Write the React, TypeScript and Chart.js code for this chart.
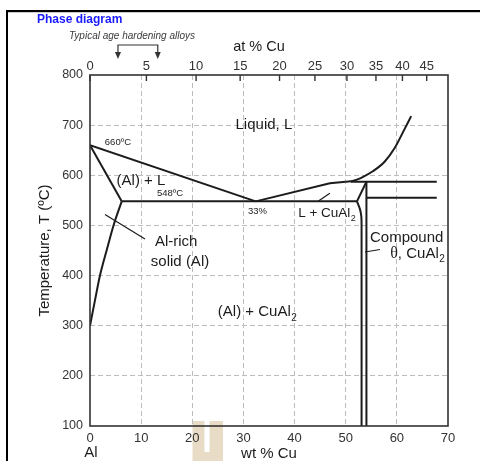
import React, { useEffect, useRef } from 'react';
import { Chart, registerables } from 'chart.js';

Chart.register(...registerables);

// ---- data (wt % Cu, temperature °C) ----
const wtTickStep = 10;
const tempTickStep = 100;
const atTicks = [0, 5, 10, 15, 20, 25, 30, 35, 40, 45];
const ageHardeningWt = [5.47, 13.25];

const liquidusAl = [[0, 660], [32.4, 548]];
const solidusAl = [[0, 660], [6.2, 548]];
const solvusAl = [[0, 300], [1, 352], [1.95, 400], [3.3, 452], [4.6, 500], [6.2, 548]];
const eutecticLine = [[6.2, 548], [52.2, 548]];
const liquidusLow = [[32.4, 548], [46.9, 584], [50, 587]];
const liquidusHigh = [[50, 587], [51.5, 589], [53.4, 597], [55.3, 608], [57.6, 627], [59.6, 655], [61.2, 686], [62.8, 718]];
const thetaLeft = [[52.2, 548], [52.8, 532], [53.05, 518], [53.1, 500], [53.1, 100]];
const thetaTop = [[52.2, 548], [54.05, 587]];
const thetaRight = [[54.05, 587], [54.05, 100]];
const upperHorizontal = [[51, 587], [67.8, 587]];
const lowerHorizontal = [[54.05, 555], [67.8, 555]];
const leaderAlRich = [[2.93, 522], [10.75, 473]];
const leaderLCuAl2 = [[44.6, 548], [46.9, 564]];
const leaderCompound = [[53.77, 447], [56.7, 452]];

const CU = 63.546;
const AL = 26.982;
const atToWt = (a: number) => (a * CU) / (a * CU + (100 - a) * AL) * 100;

type Lbl = { t: string; x: number; y: number; size: number; align?: CanvasTextAlign; sub?: string; theta?: boolean };
const phaseLabels: Lbl[] = [
  { t: 'Liquid, L', x: 34, y: 700, size: 15, align: 'center' },
  { t: '(Al) + L', x: 5.2, y: 588, size: 15 },
  { t: 'Al-rich', x: 12.7, y: 468, size: 15 },
  { t: 'solid (Al)', x: 11.9, y: 427, size: 15 },
  { t: '660ºC', x: 2.9, y: 665, size: 9.5 },
  { t: '548ºC', x: 13.1, y: 563, size: 9.5 },
  { t: '33%', x: 30.9, y: 528, size: 9.5 },
  { t: 'L + CuAl', x: 40.7, y: 525, size: 13.5, sub: '2' },
  { t: 'Compound', x: 54.75, y: 476, size: 15 },
  { t: ', CuAl', x: 58.7, y: 443, size: 15, sub: '2', theta: true },
  { t: '(Al) + CuAl', x: 25.0, y: 327, size: 15, sub: '2' },
];

const FONT = "'Liberation Sans', Arial, Helvetica, sans-serif";
const INK = '#1c1c1c';
const GRID = '#bdbdbd';

const toPts = (arr: number[][]) => arr.map(([x, y]) => ({ x, y }));

const decor = {
  id: 'decor',
  beforeDraw(chart: any) {
    const ctx = chart.ctx;
    ctx.save();
    ctx.fillStyle = '#ffffff';
    ctx.fillRect(0, 0, chart.width, chart.height);
    ctx.fillStyle = '#e9dcc6';
    ctx.fillRect(192.5, 421, 30.5, 40);
    ctx.fillStyle = '#ffffff';
    ctx.fillRect(204.5, 421, 5, 31);
    ctx.fillStyle = '#000';
    ctx.fillRect(6, 10, 474, 2.2);
    ctx.fillRect(6, 10, 2, 451);
    ctx.restore();
  },
  afterDraw(chart: any) {
    const { ctx, chartArea: a, scales } = chart;
    const xs = scales.x;
    const ys = scales.y;
    const x2 = scales.x2;
    ctx.save();
    // plot frame
    ctx.strokeStyle = '#333';
    ctx.lineWidth = 1.6;
    ctx.strokeRect(a.left, a.top, a.right - a.left, a.bottom - a.top);
    // inward tick marks of the at% axis
    ctx.lineWidth = 1.4;
    ctx.beginPath();
    x2.ticks.forEach((t: any) => {
      const px = x2.getPixelForValue(t.value);
      ctx.moveTo(px, a.top);
      ctx.lineTo(px, a.top + 6);
    });
    ctx.stroke();

    // title texts
    ctx.textBaseline = 'middle';
    ctx.textAlign = 'left';
    ctx.fillStyle = '#1a1aff';
    ctx.font = `bold 12px ${FONT}`;
    ctx.fillText('Phase diagram', 37, 19.5);
    ctx.fillStyle = '#3a3a3a';
    ctx.font = `italic 10px ${FONT}`;
    ctx.fillText('Typical age hardening alloys', 69, 36);

    // bracket with arrows
    const [w1, w2] = ageHardeningWt.map((v) => xs.getPixelForValue(v));
    ctx.strokeStyle = '#333';
    ctx.lineWidth = 1.2;
    ctx.beginPath();
    ctx.moveTo(w1, 53);
    ctx.lineTo(w1, 45);
    ctx.lineTo(w2, 45);
    ctx.lineTo(w2, 53);
    ctx.stroke();
    ctx.fillStyle = '#333';
    [w1, w2].forEach((px) => {
      ctx.beginPath();
      ctx.moveTo(px - 3, 52);
      ctx.lineTo(px + 3, 52);
      ctx.lineTo(px, 59);
      ctx.closePath();
      ctx.fill();
    });

    ctx.fillStyle = INK;
    ctx.font = `14.5px ${FONT}`;
    ctx.textAlign = 'center';
    ctx.fillText('at % Cu', 259, 47);
    ctx.font = `15px ${FONT}`;
    ctx.fillText('Al', xs.getPixelForValue(0) + 1, 453);

    // phase labels
    phaseLabels.forEach((l) => {
      let px = xs.getPixelForValue(l.x);
      const py = ys.getPixelForValue(l.y);
      ctx.textAlign = l.align || 'left';
      if (l.theta) {
        ctx.font = `16px 'Liberation Serif', 'DejaVu Serif', serif`;
        ctx.textAlign = 'left';
        ctx.fillText('θ', px, py);
        px += ctx.measureText('θ').width;
      }
      ctx.font = `${l.size}px ${FONT}`;
      ctx.fillText(l.t, px, py);
      if (l.sub) {
        const w = ctx.measureText(l.t).width;
        const start = (l.align === 'center') ? px + w / 2 : px + w;
        ctx.font = `${Math.round(l.size * 0.65)}px ${FONT}`;
        ctx.textAlign = 'left';
        ctx.fillText(l.sub, start + 0.5, py + l.size * 0.38);
      }
    });
    ctx.restore();
  },
};

export default function App() {
  const ref = useRef<HTMLCanvasElement | null>(null);

  useEffect(() => {
    if (!ref.current) return;
    Chart.defaults.font.family = FONT;
    Chart.defaults.color = INK;

    const line = (data: number[][], width = 2, smooth: 'none' | 'mono' | 'bez' = 'none') => ({
      data: toPts(data),
      borderColor: INK,
      borderWidth: width,
      pointRadius: 0,
      fill: false,
      tension: smooth === 'bez' ? 0.3 : smooth === 'mono' ? 0.4 : 0,
      cubicInterpolationMode: smooth === 'mono' ? 'monotone' : 'default',
      xAxisID: 'x',
      yAxisID: 'y',
    });

    const hideEdge = (lo: number, hi: number) => (c: any) =>
      c.tick && (c.tick.value === lo || c.tick.value === hi) ? 'rgba(0,0,0,0)' : GRID;

    const chart = new Chart(ref.current, {
      type: 'line',
      data: {
        datasets: [
          line(liquidusAl),
          line(solidusAl),
          line(solvusAl, 2, 'mono'),
          line(eutecticLine),
          line(liquidusLow),
          line(liquidusHigh, 2, 'mono'),
          line(thetaLeft, 2, 'bez'),
          line(thetaTop),
          line(thetaRight),
          line(upperHorizontal),
          line(lowerHorizontal),
          line(leaderAlRich, 1.2),
          line(leaderLCuAl2, 1.2),
          line(leaderCompound, 1.2),
        ] as any,
      },
      options: {
        animation: false,
        responsive: false,
        events: [],
        layout: { padding: { left: 0, right: 32, top: 0, bottom: 0 } },
        plugins: { legend: { display: false }, tooltip: { enabled: false }, title: { display: false } },
        scales: {
          x: {
            type: 'linear',
            position: 'bottom',
            min: 0,
            max: 70,
            ticks: { stepSize: wtTickStep, padding: 5, maxRotation: 0, font: { size: 13 }, color: '#333' },
            grid: { color: hideEdge(0, 70), lineWidth: 1, drawTicks: false },
            border: { display: false, dash: [5, 3] },
            title: { display: true, text: 'wt % Cu', font: { size: 15, lineHeight: 1 }, padding: 0, color: INK },
            afterFit: (s: any) => { s.height = 35; },
          },
          x2: {
            type: 'linear',
            position: 'top',
            min: 0,
            max: 70,
            afterBuildTicks: (s: any) => { s.ticks = atTicks.map((a) => ({ value: atToWt(a) })); },
            ticks: {
              autoSkip: false,
              maxRotation: 0,
              padding: 1,
              font: { size: 13 },
              color: '#333',
              callback: (_v: any, i: number) => String(atTicks[i]),
            },
            grid: { display: false, drawTicks: false },
            border: { display: false },
            afterFit: (s: any) => { s.height = 75; },
          },
          y: {
            type: 'linear',
            min: 100,
            max: 800,
            ticks: { stepSize: tempTickStep, padding: 7, font: { size: 12.5 }, color: '#333' },
            grid: { color: hideEdge(100, 800), lineWidth: 1, drawTicks: false },
            border: { display: false, dash: [5, 3] },
            title: { display: true, text: 'Temperature, T (ºC)', font: { size: 15 }, padding: { top: 35.5, bottom: 0 }, color: INK },
            afterFit: (s: any) => { s.width = 90; },
          },
        },
      } as any,
      plugins: [decor],
    });
    return () => chart.destroy();
  }, []);

  return (
    <div style={{ position: 'absolute', left: 0, top: 0, width: 480, height: 461, background: '#fff' }}>
      <canvas ref={ref} width={480} height={461} style={{ display: 'block', width: 480, height: 461 }} />
    </div>
  );
}
